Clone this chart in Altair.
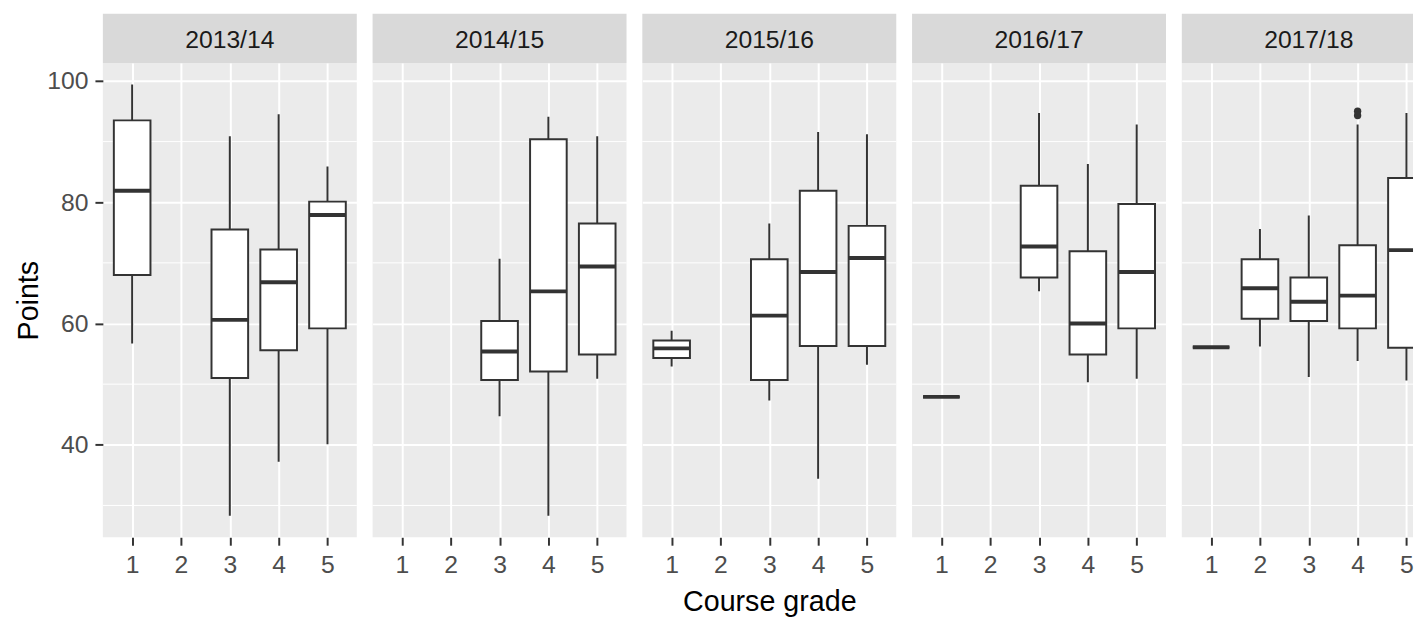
import altair as alt
import pandas as pd

# ---- data ----
seasons = ["2013/14", "2014/15", "2015/16", "2016/17", "2017/18"]
box_season = (["2013/14"] * 4 + ["2014/15"] * 3 + ["2015/16"] * 4
              + ["2016/17"] * 4 + ["2017/18"] * 5)
box_grade = [1, 3, 4, 5, 3, 4, 5, 1, 3, 4, 5, 1, 3, 4, 5, 1, 2, 3, 4, 5]
ymin = [56.7, 28.3, 37.2, 40.1, 44.7, 28.3, 50.9, 52.9, 47.3, 34.4, 53.2,
        47.9, 65.3, 50.3, 50.9, 56.1, 56.2, 51.2, 53.8, 50.6]
q1 = [68.0, 51.0, 55.6, 59.2, 50.7, 52.1, 54.9, 54.3, 50.7, 56.3, 56.3,
      47.9, 67.6, 54.9, 59.2, 56.1, 60.8, 60.4, 59.2, 56.0]
med = [81.9, 60.6, 66.8, 77.9, 55.4, 65.3, 69.4, 55.9, 61.3, 68.5, 70.8,
       47.9, 72.7, 60.0, 68.5, 56.1, 65.8, 63.6, 64.6, 72.1]
q3 = [93.5, 75.5, 72.2, 80.1, 60.4, 90.4, 76.5, 57.2, 70.6, 81.9, 76.1,
      47.9, 82.7, 71.9, 79.7, 56.1, 70.6, 67.6, 72.9, 84.0]
ymax = [99.4, 90.9, 94.5, 85.9, 70.7, 94.1, 90.9, 58.8, 76.5, 91.6, 91.2,
        47.9, 94.7, 86.3, 92.8, 56.1, 75.6, 77.8, 92.8, 94.7]
out_season = ["2017/18", "2017/18"]
out_grade = [4, 4]
out_value = [95.0, 94.3]

grade_ticks = [1, 2, 3, 4, 5]
major_y = [40, 60, 80, 100]
minor_y = [30, 50, 70, 90]

# ---- tables ----
boxes = pd.DataFrame({"season": box_season, "grade": box_grade, "ymin": ymin,
                      "q1": q1, "med": med, "q3": q3, "ymax": ymax})
outs = pd.DataFrame({"season": out_season, "grade": out_grade, "value": out_value})
minor_df = pd.DataFrame({"v": minor_y})

# ---- layout / style ----
FONT = "Liberation Sans"
PANEL_W, PANEL_H, STRIP_H = 257, 480, 50
LAST_W = 234
X_LO, X_HI = 0.4, 5.6
HALF = 0.375
lo, hi = min(ymin), max(ymax)
Y_DOM = [lo - 0.05 * (hi - lo), hi + 0.05 * (hi - lo)]
INK = "#333333"


def panel(i, s, w):
    xmax = X_LO + (X_HI - X_LO) * w / PANEL_W
    xscale = alt.Scale(domain=[X_LO, xmax], nice=False, zero=False)
    yscale = alt.Scale(domain=Y_DOM, nice=False, zero=False)
    xaxis = alt.Axis(values=grade_ticks, format="d",
                     title="Course grade" if i == 2 else None,
                     grid=True, gridColor="white", gridWidth=2,
                     domain=False, ticks=True, tickColor=INK, tickWidth=2,
                     tickSize=8, labelPadding=8, labelFont=FONT,
                     labelFontSize=25, labelColor="#4D4D4D",
                     titleFont=FONT, titleFontSize=29, titleColor="black",
                     titleFontWeight="normal", titlePadding=10)
    if i == 0:
        yaxis = alt.Axis(values=major_y, format="d", title="Points",
                         grid=True, gridColor="white", gridWidth=2,
                         domain=False, tickColor=INK, tickWidth=2, tickSize=8,
                         labelPadding=7, labelFont=FONT, labelFontSize=25,
                         labelColor="#4D4D4D", titleFont=FONT,
                         titleFontSize=29, titleColor="black",
                         titleFontWeight="normal", titlePadding=3)
    else:
        yaxis = alt.Axis(values=major_y, labels=False, ticks=False,
                         domain=False, title=None, grid=True,
                         gridColor="white", gridWidth=2)

    bdf = boxes[boxes["season"] == s]
    odf = outs[outs["season"] == s]

    minor = alt.Chart(minor_df).mark_rule(color="white", strokeWidth=1).encode(
        y=alt.Y("v:Q", scale=yscale, axis=yaxis))

    base = alt.Chart(bdf).transform_calculate(
        xl=f"datum.grade - {HALF}", xr=f"datum.grade + {HALF}")

    whisk = base.mark_rule(color=INK, strokeWidth=2, clip=True).encode(
        x=alt.X("grade:Q", scale=xscale, axis=xaxis),
        y=alt.Y("ymin:Q", scale=yscale, axis=yaxis),
        y2="ymax:Q")
    box = base.mark_rect(fill="white", stroke=INK, strokeWidth=2,
                         clip=True).encode(
        x=alt.X("xl:Q", scale=xscale, axis=xaxis), x2="xr:Q",
        y=alt.Y("q1:Q", scale=yscale, axis=yaxis), y2="q3:Q")
    median = base.mark_rule(color=INK, strokeWidth=4, clip=True).encode(
        x=alt.X("xl:Q", scale=xscale, axis=xaxis), x2="xr:Q",
        y=alt.Y("med:Q", scale=yscale, axis=yaxis))

    layers = [minor, whisk, box, median]
    if len(odf):
        pts = alt.Chart(odf).mark_circle(color=INK, opacity=1, size=55,
                                         clip=True).encode(
            x=alt.X("grade:Q", scale=xscale, axis=xaxis),
            y=alt.Y("value:Q", scale=yscale, axis=yaxis))
        layers.append(pts)

    sdf = pd.DataFrame({"season": [s]})
    strip_bg = alt.Chart(sdf).mark_rect(color="#D9D9D9").encode(
        x=alt.value(0), x2=alt.value(w), y=alt.value(-STRIP_H),
        y2=alt.value(0))
    strip_txt = alt.Chart(sdf).mark_text(font=FONT, fontSize=25,
                                         color="#1A1A1A",
                                         baseline="middle").encode(
        x=alt.value(PANEL_W / 2), y=alt.value(-23), text="season:N")
    layers += [strip_bg, strip_txt]

    return alt.layer(*layers).properties(width=w, height=PANEL_H)


panels = [panel(i, s, LAST_W if i == len(seasons) - 1 else PANEL_W)
          for i, s in enumerate(seasons)]

chart = alt.hconcat(*panels, spacing=14).properties(
    padding={"left": 7, "top": 2, "right": 0, "bottom": 0},
    background="white",
).configure_view(stroke=None, fill="#EBEBEB")

chart.save("out.html", embed_options={"renderer": "svg", "actions": False})
